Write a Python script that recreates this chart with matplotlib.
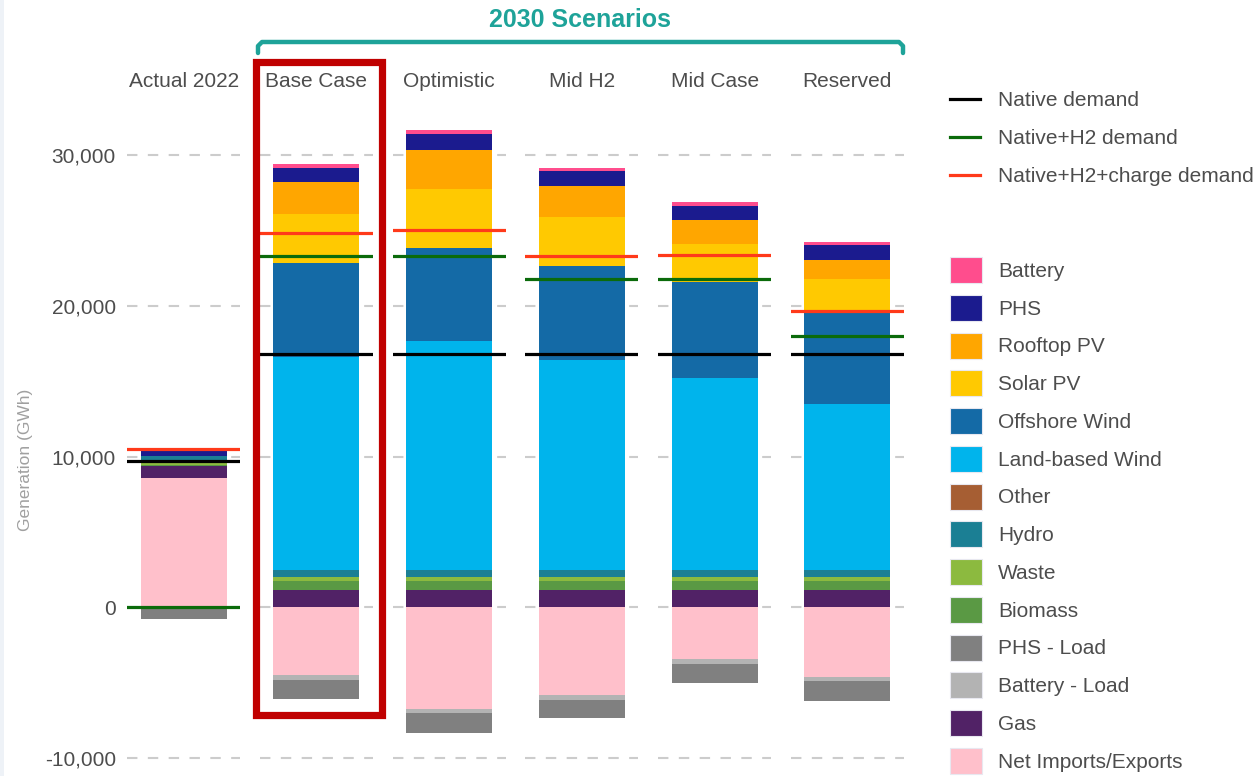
import matplotlib
matplotlib.use("Agg")
import matplotlib.pyplot as plt
from matplotlib.patches import Patch, Rectangle
from matplotlib.lines import Line2D
from matplotlib.ticker import FuncFormatter

plt.rcParams['font.family'] = ['Liberation Sans', 'DejaVu Sans']

# scenarios (one facet each)
categories = ['Actual 2022', 'Base Case', 'Optimistic', 'Mid H2', 'Mid Case', 'Reserved']

# generation by source (GWh)
net_imports = [8580, -4510, -6720, -5840, -3430, -4620]
gas = [780, 1150, 1150, 1150, 1150, 1150]
biomass = [110, 600, 600, 600, 600, 600]
waste = [180, 270, 270, 270, 270, 270]
hydro = [380, 480, 480, 480, 480, 480]
other = [0, 0, 0, 0, 0, 0]
land_wind = [0, 14100, 15180, 13940, 12740, 11020]
offshore_wind = [0, 6250, 6170, 6210, 6350, 6240]
solar_pv = [0, 3280, 3940, 3250, 2550, 2030]
rooftop_pv = [0, 2080, 2590, 2090, 1550, 1240]
phs = [400, 950, 1060, 950, 920, 1000]
battery = [0, 240, 220, 220, 270, 220]
battery_load = [0, -290, -290, -330, -310, -290]
phs_load = [-800, -1260, -1330, -1150, -1280, -1330]

# demand levels (GWh)
native_demand = [9700, 16840, 16840, 16840, 16840, 16840]
native_h2_demand = [0, 23300, 23300, 21810, 21810, 18010]
native_h2_charge_demand = [10490, 24840, 25020, 23320, 23410, 19650]

# stacking order, bottom to top
series = [
    ('Net Imports/Exports', net_imports, '#FFC0CB'),
    ('Gas', gas, '#512266'),
    ('Biomass', biomass, '#5A9944'),
    ('Waste', waste, '#8CBA3F'),
    ('Hydro', hydro, '#1B7F94'),
    ('Other', other, '#A65E33'),
    ('Land-based Wind', land_wind, '#00B4EC'),
    ('Offshore Wind', offshore_wind, '#146AA6'),
    ('Solar PV', solar_pv, '#FFC901'),
    ('Rooftop PV', rooftop_pv, '#FFA600'),
    ('PHS', phs, '#1B1B8E'),
    ('Battery', battery, '#FF4D8D'),
    ('Battery - Load', battery_load, '#B3B3B3'),
    ('PHS - Load', phs_load, '#808080'),
]
colors = {name: c for name, _, c in series}

legend_order = ['Battery', 'PHS', 'Rooftop PV', 'Solar PV', 'Offshore Wind',
                'Land-based Wind', 'Other', 'Hydro', 'Waste', 'Biomass',
                'PHS - Load', 'Battery - Load', 'Gas', 'Net Imports/Exports']

demand_lines = [
    ('Native demand', native_demand, '#000000'),
    ('Native+H2 demand', native_h2_demand, '#0B6B0B'),
    ('Native+H2+charge demand', native_h2_charge_demand, '#FF3A1A'),
]

W, H = 1256, 776
fig, axes = plt.subplots(1, len(categories), sharey=True, figsize=(W / 100, H / 100), dpi=100)
fig.subplots_adjust(left=127 / W, right=904 / W, bottom=6 / H, top=(H - 95) / H, wspace=0.173)

text_col = '#4D4D4D'
for i, ax in enumerate(axes):
    pos = 0
    neg = 0
    for name, vals, col in series:
        v = vals[i]
        if v >= 0:
            ax.bar(0, v, bottom=pos, width=0.76, color=col, linewidth=0, zorder=2)
            pos += v
        else:
            ax.bar(0, v, bottom=neg, width=0.76, color=col, linewidth=0, zorder=2)
            neg += v
    for name, vals, col in demand_lines:
        ax.axhline(vals[i], color=col, lw=2.3, zorder=3)
    ax.set_xlim(-0.5, 0.5)
    ax.set_ylim(-10800, 34000)
    ax.set_xticks([])
    ax.set_yticks([-10000, 0, 10000, 20000, 30000])
    ax.yaxis.grid(True, color='#CCCCCC', linestyle=(0, (5, 5)), lw=1.5, zorder=0)
    ax.set_axisbelow(True)
    for s in ax.spines.values():
        s.set_visible(False)
    ax.tick_params(axis='y', length=0, pad=8, labelsize=15, labelcolor=text_col)
    ax.set_title(categories[i], fontsize=15, color=text_col, pad=6)

axes[0].yaxis.set_major_formatter(FuncFormatter(lambda v, p: f'{int(v):,}'))
axes[0].set_ylabel('Generation (GWh)', fontsize=12.5, color='#A0A0A0')
axes[0].yaxis.set_label_coords(-0.83, 0.46)

# legends
line_handles = [Line2D([], [], color=c, lw=2.3) for _, _, c in demand_lines]
leg1 = fig.legend(line_handles, [n for n, _, _ in demand_lines], loc='upper left',
                  bbox_to_anchor=(950 / W, 1 - 91 / H), frameon=False, fontsize=15,
                  handlelength=1.45, handletextpad=0.85, labelspacing=0.92,
                  borderaxespad=0, borderpad=0)
for t in leg1.get_texts():
    t.set_color(text_col)

patch_handles = [Patch(facecolor=colors[n], edgecolor='#E8E8F0', lw=0.8) for n in legend_order]
leg2 = fig.legend(patch_handles, legend_order, loc='upper left',
                  bbox_to_anchor=(950 / W, 1 - 257 / H), frameon=False, fontsize=15,
                  handlelength=1.55, handleheight=1.55, handletextpad=0.75,
                  labelspacing=0.56, borderaxespad=0, borderpad=0)
for t in leg2.get_texts():
    t.set_color(text_col)

# "2030 Scenarios" bracket
teal = '#1EA399'
fig.text(580 / W, 1 - 20 / H, '2030 Scenarios', ha='center', va='center',
         fontsize=18, fontweight='bold', color=teal)
bx = [258, 258, 262, 899, 903, 903]
by = [53, 46, 42, 42, 46, 53]
fig.add_artist(Line2D([x / W for x in bx], [1 - y / H for y in by], color=teal, lw=3.2,
                      solid_joinstyle='round', solid_capstyle='round',
                      transform=fig.transFigure))

# highlight box around Base Case
fig.add_artist(Rectangle((255.5 / W, 1 - 714.5 / H), 126 / W, 653 / H, fill=False,
                         edgecolor='#C00000', lw=5.2, transform=fig.transFigure))
fig.add_artist(Rectangle((0, 0), 4 / W, 1, color='#EEF2F7', lw=0, transform=fig.transFigure))

fig.savefig('out.png', dpi=100)
